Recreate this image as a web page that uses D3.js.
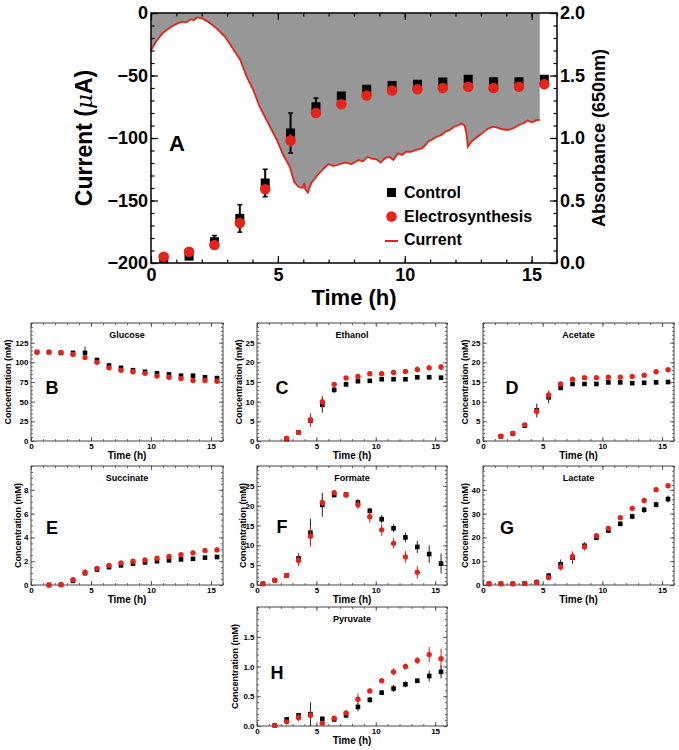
<!DOCTYPE html>
<html><head><meta charset="utf-8">
<script src="https://cdn.jsdelivr.net/npm/d3@7"></script>
<style>
body{margin:0;background:#fff}
svg{font-family:"Liberation Sans",Arial,Helvetica,sans-serif;font-weight:bold}
</style>
</head><body>
<svg id="c" width="679" height="750"></svg>
<script>
// ---------- DATA ----------
const hours = [0.5,1.5,2.5,3.5,4.5,5.5,6.5,7.5,8.5,9.5,10.5,11.5,12.5,13.5,14.5,15.5];

// Panel A: absorbance (right axis)
const absControl    = [0.035,0.055,0.17,0.357,0.64,1.04,1.25,1.336,1.39,1.42,1.43,1.448,1.47,1.45,1.45,1.47];
const absControlErr = [0.01,0.01,0.05,0.11,0.11,0.16,0.07,0.02,0.02,0.02,0.02,0.02,0.02,0.02,0.02,0.02];
const absElectro    = [0.05,0.09,0.144,0.32,0.59,0.98,1.20,1.27,1.34,1.38,1.39,1.40,1.41,1.40,1.41,1.43];
const absElectroErr = [0.01,0.01,0.02,0.03,0.03,0.05,0.03,0.02,0.03,0.03,0.03,0.02,0.02,0.02,0.02,0.04];

// Panel A: current trace (left axis, µA)
const currentTime  = [0,0.19,0.45,0.79,1.05,1.22,1.40,1.56,1.70,1.81,1.98,2.24,2.58,2.92,3.26,3.52,3.77,4.03,4.28,4.62,4.96,5.21,5.47,5.64,5.81,5.98,6.04,6.08,6.18,6.32,6.57,6.83,7.00,7.17,7.34,7.50,7.68,7.90,8.19,8.35,8.53,8.70,8.88,9.05,9.20,9.39,9.55,9.73,9.90,10.05,10.24,10.45,10.67,10.80,10.92,11.10,11.26,11.45,11.60,11.78,11.94,12.10,12.25,12.35,12.42,12.49,12.62,12.80,12.96,13.15,13.31,13.50,13.65,13.85,14.07,14.30,14.50,14.70,14.84,15.00,15.10,15.22,15.32];
const currentValue = [-30,-23,-16.3,-11,-8.3,-6.9,-7.5,-5.1,-5.6,-3.5,-4,-6.9,-12.3,-19,-29.6,-37.6,-51,-61.6,-75,-88.3,-101.6,-113.6,-123,-135,-139,-140,-136,-141,-143.7,-136,-129.6,-124,-120.8,-122.5,-121.6,-120.5,-119.7,-120.8,-117.6,-118.8,-115,-116.5,-117,-119.7,-116.5,-115,-117.5,-112.3,-113.5,-111,-111,-109.5,-108.3,-106,-103,-101,-99,-97.5,-95,-93.5,-91,-90,-88.3,-90,-95,-107,-103,-100,-97.6,-94.5,-92.3,-91,-91.7,-93,-93.6,-92,-89.6,-88,-86,-87.5,-86.7,-85.5,-85.6];

// Tick labels
const aTimeTicks = [0,5,10,15];
const aCurrentTicks = [-200,-150,-100,-50,0];
const aAbsTicks = [0,0.5,1.0,1.5,2.0];
const smallTimeTicks = [0,5,10,15];

// Panel B: glucose
const glucoseControl    = [113,113,112,112,112,103,96,93,90,88,86,84.6,83,83,81,80];
const glucoseControlErr = [1,1,1,1.5,8,1.5,1.5,1.5,1.5,1.5,1.5,1.5,1.5,1.5,1.5,1.5];
const glucoseElectro    = [113,113,112.5,110,106,100,93,90,88,86,82.5,81,79.5,77,77,76];
const glucoseElectroErr = [1,1,1,1.5,3,1.5,1.5,1.5,1.5,1.5,1.5,1.5,1.5,1.5,1.5,1.5];
const glucoseTicks = [0,25,50,75,100,125];

// Panel C: ethanol
const ethanolControl    = [null,null,0.5,2.2,5.2,9.2,13.0,14.4,15.2,15.3,15.7,15.7,15.7,16.2,16.2,16.1];
const ethanolControlErr = [0,0,0.3,0.4,1.5,2.0,0.8,0.5,0.4,0.4,0.4,0.5,0.4,0.4,0.4,0.4];
const ethanolElectro    = [null,null,0.7,2.2,5.4,10.0,14.4,16.0,16.4,17.1,17.1,17.4,17.7,18.2,18.6,18.8];
const ethanolElectroErr = [0,0,0.3,0.4,1.7,1.5,0.5,0.5,0.7,0.5,0.5,0.7,0.6,0.8,0.8,0.7];
const ethanolTicks = [0,5,10,15,20,25];

// Panel D: acetate
const acetateControl    = [null,1.2,1.9,3.9,7.8,11.1,13.5,14.5,14.5,14.5,14.9,14.9,14.7,14.8,14.9,15.0];
const acetateControlErr = [0,0.2,0.2,0.4,1.7,1.5,0.5,0.4,0.4,0.4,0.4,0.4,0.4,0.4,0.4,0.4];
const acetateElectro    = [null,1.2,1.9,4.1,7.5,11.7,14.5,15.7,16.1,16.1,16.2,16.2,16.4,16.7,17.6,18.1];
const acetateElectroErr = [0,0.2,0.2,0.4,1.5,1.2,0.5,0.4,0.4,0.4,0.4,0.4,0.4,0.4,0.4,0.4];
const acetateTicks = [0,5,10,15,20,25];

// Panel E: succinate
const succinateControl    = [null,0,0.02,0.35,1.0,1.3,1.5,1.65,1.8,1.9,2.0,2.07,2.15,2.2,2.3,2.35];
const succinateControlErr = [0,0,0,0.1,0.2,0.1,0.1,0.1,0.1,0.1,0.1,0.1,0.1,0.1,0.1,0.1];
const succinateElectro    = [null,0,0.02,0.45,1.06,1.4,1.65,1.85,2.0,2.1,2.25,2.4,2.55,2.7,2.9,2.95];
const succinateElectroErr = [0,0,0,0.15,0.3,0.15,0.15,0.15,0.15,0.15,0.15,0.15,0.15,0.2,0.2,0.2];
const succinateTicks = [0,2,4,6,8];

// Panel F: formate
const formateControl    = [0.3,1.2,2.4,6.7,13.2,20.2,22.7,22.8,20.8,18.7,16.6,14.3,12.0,9.6,7.8,5.4];
const formateControlErr = [0.2,0.3,0.4,1.3,3.5,3.0,0.6,0.6,0.8,0.8,1.0,1.0,1.2,1.5,2.2,2.5];
const formateElectro    = [0.3,1.2,2.4,6.2,12.3,20.8,23.3,22.7,20.2,17.2,13.9,10.5,7.1,3.2,null,null];
const formateElectroErr = [0.2,0.3,0.4,1.5,2.5,1.0,0.6,0.6,1.0,1.5,1.5,1.3,1.5,1.6,0,0];
const formateTicks = [0,5,10,15,20,25];

// Panel G: lactate
const lactateControl    = [0.5,0.5,0.5,0.7,1.2,3.9,8.7,11.5,16.5,19.9,22.9,25.7,28.8,31.6,33.8,36.1];
const lactateControlErr = [0.2,0.2,0.2,0.3,0.5,1.2,2.0,2.5,1.5,1.0,1.0,1.0,1.2,1.3,1.3,1.5];
const lactateElectro    = [0.5,0.5,0.5,0.7,1.2,3.1,7.6,12.0,16.0,20.7,23.8,28.3,32.2,35.5,40.0,41.7];
const lactateElectroErr = [0.2,0.2,0.2,0.3,0.5,1.0,1.5,2.0,1.5,1.0,1.0,1.0,1.0,1.2,0.8,0.8];
const lactateTicks = [0,10,20,30,40];

// Panel H: pyruvate
const pyruvateControl    = [null,0.01,0.11,0.18,0.20,0.12,0.11,0.18,0.32,0.44,0.56,0.63,0.70,0.76,0.84,0.91];
const pyruvateControlErr = [0,0.01,0.03,0.04,0.20,0.04,0.03,0.05,0.07,0.05,0.04,0.06,0.05,0.04,0.09,0.11];
const pyruvateElectro    = [null,0.01,0.07,0.14,0.18,0.045,0.13,0.22,0.45,0.59,0.76,0.91,1.00,1.10,1.20,1.13];
const pyruvateElectroErr = [0,0.01,0.02,0.06,0.08,0.03,0.03,0.04,0.10,0.05,0.04,0.06,0.05,0.06,0.13,0.17];
const pyruvateTicks = [0,0.5,1.0,1.5];

// ---------- DRAWING ----------
const RED = "#e4231b";
const svg = d3.select("#c");

function stripDomain(g){ g.select(".domain").remove(); }

// ===== Panel A =====
(function(){
  const L=151,R=557,T=13,B=263;
  const x = d3.scaleLinear([0,16],[L,R]);
  const yC = d3.scaleLinear([-200,0],[B,T]);
  const yA = d3.scaleLinear([0,2],[B,T]);
  const g = svg.append("g");
  const cur = currentTime.map((t,i)=>[t,currentValue[i]]);
  g.append("path").datum(cur)
    .attr("d", d3.area().x(d=>x(d[0])).y0(yC(0)).y1(d=>yC(d[1])))
    .attr("fill","#979797");
  g.append("path").datum(cur)
    .attr("d", d3.line().x(d=>x(d[0])).y(d=>yC(d[1])))
    .attr("fill","none").attr("stroke",RED).attr("stroke-width",1.8);

  const fs = 18;
  const minorX = d3.range(0,17,1), minorC = d3.range(-200,1,10), minorA = d3.range(0,2.01,0.1);
  [[d3.axisBottom(x),B],[d3.axisTop(x),T]].forEach(([ax,yy])=>{
    g.append("g").attr("transform",`translate(0,${yy})`).call(ax.tickValues(minorX).tickSize(-3.5).tickFormat("")).call(stripDomain);
  });
  g.append("g").attr("transform",`translate(${L},0)`).call(d3.axisLeft(yC).tickValues(minorC).tickSize(-3.5).tickFormat("")).call(stripDomain);
  g.append("g").attr("transform",`translate(${R},0)`).call(d3.axisRight(yA).tickValues(minorA).tickSize(-3.5).tickFormat("")).call(stripDomain);
  const ab = g.append("g").attr("transform",`translate(0,${B})`).call(d3.axisBottom(x).tickValues(aTimeTicks).tickSize(-7).tickPadding(5).tickFormat(d3.format("d"))).call(stripDomain);
  g.append("g").attr("transform",`translate(0,${T})`).call(d3.axisTop(x).tickValues(aTimeTicks).tickSize(-7).tickFormat("")).call(stripDomain);
  const al = g.append("g").attr("transform",`translate(${L},0)`).call(d3.axisLeft(yC).tickValues(aCurrentTicks).tickSize(-7).tickPadding(3).tickFormat(d3.format("d"))).call(stripDomain);
  const ar = g.append("g").attr("transform",`translate(${R},0)`).call(d3.axisRight(yA).tickValues(aAbsTicks).tickSize(-7).tickPadding(3).tickFormat(d3.format(".1f"))).call(stripDomain);
  [ab,al,ar].forEach(a=>a.selectAll("text").attr("font-size",fs).attr("font-weight","bold").attr("font-family","Liberation Sans, Arial, sans-serif").attr("fill","#000"));
  g.selectAll(".tick line").attr("stroke","#000").attr("stroke-width",1.2);
  g.append("rect").attr("x",L).attr("y",T).attr("width",R-L).attr("height",B-T)
    .attr("fill","none").attr("stroke","#000").attr("stroke-width",1.5);

  const ctrl = hours.map((t,i)=>({t,v:absControl[i],e:absControlErr[i]}));
  const elec = hours.map((t,i)=>({t,v:absElectro[i],e:absElectroErr[i]}));
  g.selectAll(".ec").data(ctrl).join("line").attr("x1",d=>x(d.t)).attr("x2",d=>x(d.t))
    .attr("y1",d=>yA(d.v-d.e)).attr("y2",d=>yA(d.v+d.e)).attr("stroke","#000").attr("stroke-width",2);
  g.selectAll(".ecc").data(ctrl.filter(d=>d.e>0.03)).join("g").each(function(d){
    const s=d3.select(this);
    [d.v-d.e,d.v+d.e].forEach(v=>s.append("line").attr("x1",x(d.t)-2.5).attr("x2",x(d.t)+2.5).attr("y1",yA(v)).attr("y2",yA(v)).attr("stroke","#000").attr("stroke-width",1.5));
  });
  g.selectAll(".sq").data(ctrl).join("rect").attr("x",d=>x(d.t)-4.5).attr("y",d=>yA(d.v)-4.5)
    .attr("width",9).attr("height",9).attr("fill","#000");
  g.selectAll(".ee").data(elec).join("line").attr("x1",d=>x(d.t)).attr("x2",d=>x(d.t))
    .attr("y1",d=>yA(d.v-d.e)).attr("y2",d=>yA(d.v+d.e)).attr("stroke",RED).attr("stroke-width",2);
  g.selectAll(".ci").data(elec).join("circle").attr("cx",d=>x(d.t)).attr("cy",d=>yA(d.v))
    .attr("r",5.3).attr("fill",RED);

  const lg = g.append("g").attr("font-size",16).attr("font-weight","bold");
  lg.append("rect").attr("x",387).attr("y",188).attr("width",9).attr("height",9).attr("fill","#000");
  lg.append("text").attr("x",404).attr("y",198).text("Control");
  lg.append("circle").attr("cx",391.5).attr("cy",216.5).attr("r",5.3).attr("fill",RED);
  lg.append("text").attr("x",404).attr("y",222).text("Electrosynthesis");
  lg.append("line").attr("x1",385).attr("x2",398).attr("y1",241).attr("y2",241).attr("stroke",RED).attr("stroke-width",2);
  lg.append("text").attr("x",404).attr("y",245).text("Current");

  g.append("text").attr("x",177).attr("y",151).attr("text-anchor","middle").attr("font-size",22).text("A");
  const yt = g.append("text").attr("transform","translate(92,138) rotate(-90)").attr("text-anchor","middle").attr("font-size",23);
  yt.append("tspan").text("Current (");
  yt.append("tspan").attr("font-family","DejaVu Serif, serif").attr("font-style","italic").attr("font-weight","normal").text("μ");
  yt.append("tspan").text("A)");
  g.append("text").attr("transform","translate(605,138) rotate(-90)").attr("text-anchor","middle").attr("font-size",18).text("Absorbance (650nm)");
  g.append("text").attr("x",354).attr("y",305).attr("text-anchor","middle").attr("font-size",22).text("Time (h)");
})();

// ===== Small panels =====
function panel(p){
  const x = d3.scaleLinear([0,16],[p.x0,p.x1]);
  const y = d3.scaleLinear([0,p.ymax],[p.y1,p.y0]);
  const g = svg.append("g");
  const minorX = d3.range(0,17,1);
  const minorY = d3.range(0,p.ymax+1e-9,p.minor);
  const tl = -4, tm = -2;
  g.append("g").attr("transform",`translate(0,${p.y1})`).call(d3.axisBottom(x).tickValues(minorX).tickSize(tm).tickFormat("")).call(stripDomain);
  g.append("g").attr("transform",`translate(0,${p.y0})`).call(d3.axisTop(x).tickValues(minorX).tickSize(tm).tickFormat("")).call(stripDomain);
  g.append("g").attr("transform",`translate(${p.x0},0)`).call(d3.axisLeft(y).tickValues(minorY).tickSize(tm).tickFormat("")).call(stripDomain);
  g.append("g").attr("transform",`translate(${p.x1},0)`).call(d3.axisRight(y).tickValues(minorY).tickSize(tm).tickFormat("")).call(stripDomain);
  const bx = g.append("g").attr("transform",`translate(0,${p.y1})`).call(d3.axisBottom(x).tickValues(smallTimeTicks).tickSize(tl).tickPadding(2).tickFormat(d3.format("d"))).call(stripDomain);
  g.append("g").attr("transform",`translate(0,${p.y0})`).call(d3.axisTop(x).tickValues(smallTimeTicks).tickSize(tl).tickFormat("")).call(stripDomain);
  const ly = g.append("g").attr("transform",`translate(${p.x0},0)`).call(d3.axisLeft(y).tickValues(p.ticks).tickSize(tl).tickPadding(2.5).tickFormat(p.fmt)).call(stripDomain);
  g.append("g").attr("transform",`translate(${p.x1},0)`).call(d3.axisRight(y).tickValues(p.ticks).tickSize(tl).tickFormat("")).call(stripDomain);
  [bx,ly].forEach(a=>a.selectAll("text").attr("font-size",8).attr("font-weight","bold").attr("font-family","Liberation Sans, Arial, sans-serif").attr("fill","#000"));
  g.selectAll(".tick line").attr("stroke","#444").attr("stroke-width",0.8);
  g.append("rect").attr("x",p.x0).attr("y",p.y0).attr("width",p.x1-p.x0).attr("height",p.y1-p.y0)
    .attr("fill","none").attr("stroke","#444").attr("stroke-width",1);

  const ctrl = hours.map((t,i)=>({t,v:p.ctrl[i],e:p.ctrlErr[i]})).filter(d=>d.v!=null);
  const elec = hours.map((t,i)=>({t,v:p.elec[i],e:p.elecErr[i]})).filter(d=>d.v!=null);
  const clampY = v=>y(Math.max(0,v));
  g.selectAll(".ec").data(ctrl).join("line").attr("x1",d=>x(d.t)).attr("x2",d=>x(d.t))
    .attr("y1",d=>clampY(d.v-d.e)).attr("y2",d=>y(d.v+d.e)).attr("stroke","#222").attr("stroke-width",1);
  g.selectAll(".sq").data(ctrl).join("rect").attr("x",d=>x(d.t)-2.3).attr("y",d=>y(d.v)-2.3)
    .attr("width",4.6).attr("height",4.6).attr("fill","#000");
  g.selectAll(".ee").data(elec).join("line").attr("x1",d=>x(d.t)).attr("x2",d=>x(d.t))
    .attr("y1",d=>clampY(d.v-d.e)).attr("y2",d=>y(d.v+d.e)).attr("stroke",RED).attr("stroke-width",1);
  g.selectAll(".ci").data(elec).join("circle").attr("cx",d=>x(d.t)).attr("cy",d=>y(d.v))
    .attr("r",2.7).attr("fill",RED);

  g.append("text").attr("x",(p.x0+p.x1)/2).attr("y",p.y0+14.5).attr("text-anchor","middle").attr("font-size",9).text(p.title);
  g.append("text").attr("x",p.lx).attr("y",p.ly).attr("text-anchor","middle").attr("dominant-baseline","central").attr("font-size",18).text(p.letter);
  g.append("text").attr("transform",`translate(${p.x0-p.yl},${(p.y0+p.y1)/2}) rotate(-90)`).attr("text-anchor","middle").attr("dominant-baseline","central").attr("font-size",9).text("Concentration (mM)");
  g.append("text").attr("x",(p.x0+p.x1)/2).attr("y",p.y1+17.5).attr("text-anchor","middle").attr("font-size",10).text("Time (h)");
}

const fInt = d3.format("d"), f1 = d3.format(".1f");
panel({x0:31,x1:223,y0:323,y1:441,ymax:150,minor:5,ticks:glucoseTicks,fmt:fInt,title:"Glucose",letter:"B",lx:52,ly:388,yl:23.5,ctrl:glucoseControl,ctrlErr:glucoseControlErr,elec:glucoseElectro,elecErr:glucoseElectroErr});
panel({x0:257,x1:447,y0:323,y1:441,ymax:30,minor:1,ticks:ethanolTicks,fmt:fInt,title:"Ethanol",letter:"C",lx:282,ly:388,yl:18,ctrl:ethanolControl,ctrlErr:ethanolControlErr,elec:ethanolElectro,elecErr:ethanolElectroErr});
panel({x0:483,x1:674,y0:323,y1:441,ymax:30,minor:1,ticks:acetateTicks,fmt:fInt,title:"Acetate",letter:"D",lx:512,ly:388,yl:18,ctrl:acetateControl,ctrlErr:acetateControlErr,elec:acetateElectro,elecErr:acetateElectroErr});
panel({x0:31,x1:223,y0:466,y1:585,ymax:10,minor:0.5,ticks:succinateTicks,fmt:fInt,title:"Succinate",letter:"E",lx:52,ly:528,yl:13,ctrl:succinateControl,ctrlErr:succinateControlErr,elec:succinateElectro,elecErr:succinateElectroErr});
panel({x0:257,x1:447,y0:466,y1:585,ymax:30,minor:1,ticks:formateTicks,fmt:fInt,title:"Formate",letter:"F",lx:282,ly:527,yl:14,ctrl:formateControl,ctrlErr:formateControlErr,elec:formateElectro,elecErr:formateElectroErr});
panel({x0:483,x1:674,y0:466,y1:585,ymax:50,minor:2,ticks:lactateTicks,fmt:fInt,title:"Lactate",letter:"G",lx:507,ly:528,yl:18,ctrl:lactateControl,ctrlErr:lactateControlErr,elec:lactateElectro,elecErr:lactateElectroErr});
panel({x0:257,x1:447,y0:607,y1:726,ymax:2,minor:0.1,ticks:pyruvateTicks,fmt:f1,title:"Pyruvate",letter:"H",lx:277,ly:673,yl:22,ctrl:pyruvateControl,ctrlErr:pyruvateControlErr,elec:pyruvateElectro,elecErr:pyruvateElectroErr});
</script>
</body></html>
